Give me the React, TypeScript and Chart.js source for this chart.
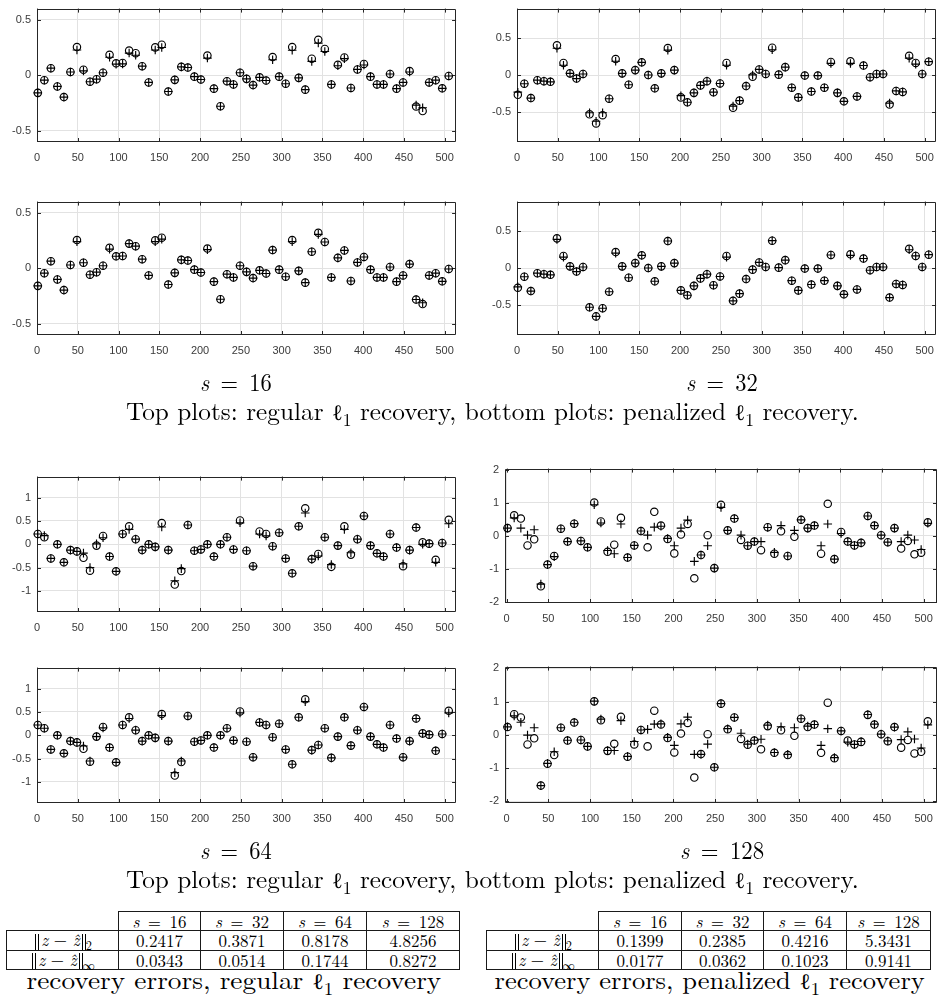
import React, { useEffect, useLayoutEffect, useRef, useState } from "react";
import { Chart, registerables } from "chart.js";

Chart.register(...registerables);

// ---------- data ----------
const X_POS = [1, 9, 17, 25, 33, 41, 49, 57, 65, 73, 81, 89, 97, 105, 113, 121, 129, 137, 145, 153, 161, 169, 177, 185, 193, 201, 209, 217, 225, 233, 241, 249, 257, 265, 273, 281, 289, 297, 305, 313, 321, 329, 337, 345, 353, 361, 369, 377, 385, 393, 401, 409, 417, 425, 433, 441, 449, 457, 465, 473, 481, 489, 497, 505];

const X_TICKS = [0, 50, 100, 150, 200, 250, 300, 350, 400, 450, 500];
const Y_TICKS_SMALL = [-0.5, 0, 0.5];
const Y_TICKS_MID = [-1, -0.5, 0, 0.5, 1];
const Y_TICKS_BIG = [-2, -1, 0, 1, 2];

// s = 16
const S16_TRUE = [-0.158, -0.044, 0.064, -0.100, -0.196, 0.030, 0.254, 0.050, -0.058, -0.035, 0.023, 0.184, 0.108, 0.111, 0.222, 0.199, 0.082, -0.064, 0.251, 0.275, -0.146, -0.041, 0.076, 0.070, -0.012, -0.038, 0.178, -0.120, -0.278, -0.053, -0.082, 0.023, -0.032, -0.088, -0.018, -0.047, 0.164, -0.012, -0.076, 0.254, -0.023, -0.129, 0.149, 0.319, 0.237, -0.082, 0.094, 0.161, -0.114, 0.053, 0.102, -0.012, -0.082, -0.082, 0.012, -0.120, -0.064, 0.038, -0.281, -0.322, -0.064, -0.044, -0.117, -0.006];
const S16_REGULAR = [-0.158, -0.044, 0.064, -0.100, -0.196, 0.030, 0.228, 0.040, -0.058, -0.035, 0.023, 0.162, 0.100, 0.103, 0.200, 0.180, 0.082, -0.064, 0.228, 0.250, -0.146, -0.041, 0.076, 0.070, -0.012, -0.038, 0.155, -0.120, -0.278, -0.053, -0.082, 0.023, -0.032, -0.088, -0.018, -0.047, 0.140, -0.012, -0.076, 0.225, -0.023, -0.129, 0.125, 0.290, 0.214, -0.082, 0.086, 0.150, -0.114, 0.053, 0.093, -0.012, -0.082, -0.082, 0.012, -0.120, -0.064, 0.030, -0.268, -0.292, -0.064, -0.044, -0.117, -0.006];
const S16_PENALIZED = [-0.158, -0.044, 0.064, -0.100, -0.196, 0.030, 0.240, 0.050, -0.058, -0.035, 0.023, 0.172, 0.108, 0.111, 0.222, 0.199, 0.082, -0.064, 0.240, 0.262, -0.146, -0.041, 0.076, 0.070, -0.012, -0.038, 0.168, -0.120, -0.278, -0.053, -0.082, 0.023, -0.032, -0.088, -0.018, -0.047, 0.164, -0.012, -0.076, 0.240, -0.023, -0.129, 0.149, 0.305, 0.237, -0.082, 0.094, 0.161, -0.114, 0.053, 0.102, -0.012, -0.082, -0.082, 0.012, -0.120, -0.064, 0.038, -0.281, -0.310, -0.064, -0.044, -0.117, -0.006];

// s = 32
const S32_TRUE = [-0.263, -0.114, -0.307, -0.066, -0.079, -0.088, 0.404, 0.167, 0.026, -0.044, 0.018, -0.526, -0.649, -0.539, -0.316, 0.219, 0.026, -0.127, 0.070, 0.175, 0.004, -0.175, 0.026, 0.368, 0.070, -0.298, -0.364, -0.237, -0.136, -0.079, -0.228, -0.110, 0.167, -0.439, -0.342, -0.145, -0.018, 0.079, 0.018, 0.373, 0.009, 0.110, -0.167, -0.298, -0.004, -0.219, -0.004, -0.167, 0.180, -0.237, -0.351, 0.189, -0.285, 0.132, -0.026, 0.018, 0.018, -0.395, -0.211, -0.224, 0.263, 0.167, 0.018, 0.184];
const S32_REGULAR = [-0.228, -0.114, -0.307, -0.066, -0.079, -0.088, 0.365, 0.135, 0.026, -0.044, 0.018, -0.505, -0.620, -0.505, -0.316, 0.190, 0.026, -0.127, 0.070, 0.175, 0.004, -0.175, 0.026, 0.340, 0.070, -0.275, -0.364, -0.237, -0.136, -0.079, -0.228, -0.110, 0.135, -0.415, -0.342, -0.145, 0.005, 0.079, 0.018, 0.345, 0.009, 0.110, -0.167, -0.298, -0.004, -0.219, -0.004, -0.167, 0.160, -0.237, -0.351, 0.160, -0.285, 0.132, -0.026, 0.018, 0.018, -0.375, -0.211, -0.224, 0.232, 0.150, 0.018, 0.184];
const S32_PENALIZED = [-0.250, -0.114, -0.307, -0.066, -0.079, -0.088, 0.390, 0.150, 0.026, -0.044, 0.018, -0.526, -0.649, -0.539, -0.316, 0.205, 0.026, -0.127, 0.070, 0.175, 0.004, -0.175, 0.026, 0.368, 0.070, -0.298, -0.364, -0.237, -0.136, -0.079, -0.228, -0.110, 0.150, -0.439, -0.342, -0.145, -0.018, 0.079, 0.018, 0.373, 0.009, 0.110, -0.167, -0.298, -0.004, -0.219, -0.004, -0.167, 0.180, -0.237, -0.351, 0.175, -0.285, 0.132, -0.026, 0.018, 0.018, -0.395, -0.211, -0.224, 0.250, 0.167, 0.018, 0.184];

// s = 64
const S64_TRUE = [0.221, 0.152, -0.303, 0.000, -0.386, -0.124, -0.152, -0.290, -0.566, -0.028, 0.179, -0.262, -0.579, 0.221, 0.386, 0.110, -0.124, 0.000, -0.055, 0.455, -0.124, -0.862, -0.572, 0.414, -0.138, -0.110, 0.000, -0.262, 0.000, 0.152, -0.110, 0.510, -0.138, -0.469, 0.276, 0.221, -0.041, 0.248, -0.303, -0.621, 0.386, 0.772, -0.317, -0.207, 0.152, -0.483, -0.028, 0.386, -0.221, 0.110, 0.607, -0.028, -0.193, -0.262, 0.221, -0.069, -0.469, -0.124, 0.359, 0.041, 0.014, -0.331, 0.028, 0.524];
const S64_REGULAR = [0.221, 0.186, -0.303, 0.000, -0.386, -0.124, -0.152, -0.190, -0.500, 0.010, 0.140, -0.262, -0.579, 0.221, 0.320, 0.110, -0.124, 0.000, -0.055, 0.370, -0.124, -0.780, -0.520, 0.414, -0.138, -0.110, 0.000, -0.262, 0.000, 0.152, -0.110, 0.460, -0.138, -0.469, 0.220, 0.180, -0.041, 0.248, -0.303, -0.621, 0.386, 0.670, -0.317, -0.250, 0.152, -0.434, -0.028, 0.320, -0.180, 0.110, 0.607, -0.028, -0.193, -0.262, 0.221, -0.069, -0.420, -0.124, 0.359, 0.000, 0.014, -0.386, 0.028, 0.440];
const S64_PENALIZED = [0.221, 0.152, -0.303, 0.000, -0.386, -0.124, -0.152, -0.230, -0.550, -0.028, 0.160, -0.262, -0.579, 0.221, 0.360, 0.110, -0.124, 0.000, -0.055, 0.420, -0.124, -0.800, -0.550, 0.414, -0.138, -0.110, 0.000, -0.262, 0.000, 0.152, -0.110, 0.480, -0.138, -0.469, 0.276, 0.221, -0.041, 0.248, -0.303, -0.621, 0.386, 0.720, -0.317, -0.207, 0.152, -0.483, -0.028, 0.386, -0.221, 0.110, 0.607, -0.028, -0.193, -0.262, 0.221, -0.069, -0.469, -0.124, 0.359, 0.041, 0.014, -0.331, 0.028, 0.480];

// s = 128
const S128_TRUE = [0.232, 0.618, 0.522, -0.290, -0.106, -1.527, -0.870, -0.609, 0.213, -0.174, 0.367, -0.155, -0.348, 1.005, 0.435, -0.483, -0.270, 0.541, -0.657, -0.290, 0.145, -0.348, 0.725, 0.309, -0.097, -0.531, 0.039, 0.357, -1.285, -0.580, 0.019, -0.976, 0.937, 0.164, 0.522, -0.126, -0.300, -0.174, -0.435, 0.261, -0.541, 0.135, -0.609, -0.029, 0.483, 0.232, 0.309, -0.541, 0.966, -0.705, 0.116, -0.174, -0.290, -0.213, 0.599, 0.309, 0.019, -0.193, 0.232, -0.386, -0.155, -0.560, -0.512, 0.406];
const S128_REGULAR = [0.232, 0.541, 0.232, 0.019, 0.184, -1.459, -0.870, -0.630, 0.213, -0.174, 0.367, -0.155, -0.348, 0.937, 0.386, -0.444, -0.541, 0.357, -0.657, -0.290, 0.145, 0.019, 0.261, 0.290, -0.080, -0.300, 0.232, 0.473, -0.773, -0.580, -0.300, -0.976, 0.860, 0.164, 0.522, 0.019, -0.300, -0.174, -0.174, 0.250, -0.500, 0.309, -0.609, 0.164, 0.483, 0.232, 0.309, -0.300, 0.357, -0.705, 0.068, -0.174, -0.290, -0.213, 0.599, 0.309, 0.019, -0.193, 0.232, -0.174, 0.019, -0.126, -0.415, 0.377];
const S128_PENALIZED = [0.240, 0.570, 0.377, -0.010, 0.213, -1.527, -0.860, -0.510, 0.213, -0.164, 0.377, -0.155, -0.348, 1.010, 0.470, -0.473, -0.473, 0.425, -0.647, -0.200, 0.145, 0.164, 0.319, 0.329, -0.077, -0.319, 0.329, 0.530, -0.589, -0.589, -0.280, -0.976, 0.937, 0.184, 0.522, 0.048, -0.280, -0.164, -0.135, 0.290, -0.531, 0.242, -0.589, 0.213, 0.483, 0.261, 0.309, -0.319, 0.184, -0.686, 0.116, -0.222, -0.290, -0.200, 0.609, 0.319, 0.019, -0.184, 0.232, -0.145, 0.087, -0.126, -0.396, 0.300];

// tables
const TABLE_S = ["16", "32", "64", "128"];
const REG_L2 = ["0.2417", "0.3871", "0.8178", "4.8256"];
const REG_LINF = ["0.0343", "0.0514", "0.1744", "0.8272"];
const PEN_L2 = ["0.1399", "0.2385", "0.4216", "5.3431"];
const PEN_LINF = ["0.0177", "0.0362", "0.1023", "0.9141"];

// ---------- drawing ----------
const AX = "#262626";
const GRID = "#e2e2e2";
const TICKFONT = { family: "'Liberation Sans', Arial, sans-serif", size: 11 };
const SERIF = "'Latin Modern Roman','CMU Serif','Liberation Serif','DejaVu Serif',serif";

const boxPlugin = {
  id: "matlabBox",
  beforeDatasetsDraw(chart: any) {
    const { ctx, chartArea, scales } = chart;
    const { left, top, right, bottom } = chartArea;
    ctx.save();
    ctx.strokeStyle = AX;
    ctx.lineWidth = 1;
    ctx.beginPath();
    ctx.rect(Math.round(left) + 0.5, Math.round(top) + 0.5, Math.round(right - left) - 1, Math.round(bottom - top) - 1);
    ctx.stroke();
    const tl = 4;
    ctx.beginPath();
    scales.x.ticks.forEach((t: any) => {
      const px = Math.round(scales.x.getPixelForValue(t.value)) + 0.5;
      ctx.moveTo(px, bottom);
      ctx.lineTo(px, bottom - tl);
      ctx.moveTo(px, top);
      ctx.lineTo(px, top + tl);
    });
    scales.y.ticks.forEach((t: any) => {
      const py = Math.round(scales.y.getPixelForValue(t.value)) + 0.5;
      ctx.moveTo(left, py);
      ctx.lineTo(left + tl, py);
      ctx.moveTo(right, py);
      ctx.lineTo(right - tl, py);
    });
    ctx.stroke();
    ctx.restore();
  },
};

type Spec = {
  box: [number, number, number, number];
  xmin: number;
  xmax: number;
  ymin: number;
  ymax: number;
  yticks: number[];
  truth: number[];
  rec: number[];
};

const PAD_L = 44;
const PAD_T = 8;
const PAD_R = 6;
const PAD_B = 26;

function Plot({ spec }: { spec: Spec }) {
  const ref = useRef<HTMLCanvasElement>(null);
  const [x0, y0, x1, y1] = spec.box;
  const w = x1 - x0 + PAD_L + PAD_R;
  const h = y1 - y0 + PAD_T + PAD_B;
  useEffect(() => {
    if (!ref.current) return;
    const chart = new Chart(ref.current, {
      type: "scatter",
      data: {
        datasets: [
          {
            data: X_POS.map((x, i) => ({ x, y: spec.truth[i] })),
            pointStyle: "circle",
            pointRadius: 3.7,
            pointBorderWidth: 1.15,
            pointBorderColor: "#000",
            pointBackgroundColor: "rgba(0,0,0,0)",
            clip: false,
          } as any,
          {
            data: X_POS.map((x, i) => ({ x, y: spec.rec[i] })),
            pointStyle: "cross",
            pointRadius: 4.3,
            pointBorderWidth: 1.15,
            pointBorderColor: "#000",
            pointBackgroundColor: "#000",
            clip: false,
          } as any,
        ],
      },
      options: {
        animation: false,
        responsive: false,
        devicePixelRatio: 1,
        events: [],
        layout: { padding: { left: 0, top: PAD_T, right: PAD_R, bottom: 0 } },
        plugins: { legend: { display: false }, tooltip: { enabled: false } },
        scales: {
          x: {
            type: "linear",
            min: spec.xmin,
            max: spec.xmax,
            afterBuildTicks: (s: any) => {
              s.ticks = X_TICKS.map((v) => ({ value: v }));
            },
            afterFit: (s: any) => {
              s.height = PAD_B;
            },
            grid: { color: GRID, drawTicks: false, lineWidth: 1 },
            border: { display: false },
            ticks: {
              padding: 9,
              color: "#3a3a3a",
              font: TICKFONT,
              maxRotation: 0,
              autoSkip: false,
              callback: (v: any) => String(v),
            },
          },
          y: {
            type: "linear",
            min: spec.ymin,
            max: spec.ymax,
            afterBuildTicks: (s: any) => {
              s.ticks = spec.yticks.map((v) => ({ value: v }));
            },
            afterFit: (s: any) => {
              s.width = PAD_L;
            },
            grid: { color: GRID, drawTicks: false, lineWidth: 1 },
            border: { display: false },
            ticks: {
              padding: 6,
              color: "#3a3a3a",
              font: TICKFONT,
              autoSkip: false,
              callback: (v: any) => String(v),
            },
          },
        },
      } as any,
      plugins: [boxPlugin],
    });
    return () => chart.destroy();
  }, []);
  return (
    <canvas
      ref={ref}
      width={w}
      height={h}
      style={{ position: "absolute", left: x0 - PAD_L, top: y0 - PAD_T, width: w, height: h }}
    />
  );
}

const PLOTS: Spec[] = [
  { box: [37, 4, 457, 142], xmin: 0, xmax: 514, ymin: -0.6, ymax: 0.6, yticks: Y_TICKS_SMALL, truth: S16_TRUE, rec: S16_REGULAR },
  { box: [517, 4, 937, 142], xmin: 0, xmax: 514, ymin: -0.9, ymax: 0.9, yticks: Y_TICKS_SMALL, truth: S32_TRUE, rec: S32_REGULAR },
  { box: [37, 197, 457, 335], xmin: 0, xmax: 514, ymin: -0.6, ymax: 0.6, yticks: Y_TICKS_SMALL, truth: S16_TRUE, rec: S16_PENALIZED },
  { box: [517, 197, 937, 335], xmin: 0, xmax: 514, ymin: -0.9, ymax: 0.9, yticks: Y_TICKS_SMALL, truth: S32_TRUE, rec: S32_PENALIZED },
  { box: [37, 472, 457, 612], xmin: 0, xmax: 514, ymin: -1.45, ymax: 1.45, yticks: Y_TICKS_MID, truth: S64_TRUE, rec: S64_REGULAR },
  { box: [505, 464, 937, 603], xmin: -2, xmax: 516, ymin: -2.03, ymax: 2.03, yticks: Y_TICKS_BIG, truth: S128_TRUE, rec: S128_REGULAR },
  { box: [37, 663, 457, 803], xmin: 0, xmax: 514, ymin: -1.45, ymax: 1.45, yticks: Y_TICKS_MID, truth: S64_TRUE, rec: S64_PENALIZED },
  { box: [505, 662, 937, 803], xmin: -2, xmax: 516, ymin: -2.05, ymax: 2.05, yticks: Y_TICKS_BIG, truth: S128_TRUE, rec: S128_PENALIZED },
];

// text block centred at (cx, cy), stretched horizontally to a target width
function FitText({ cx, cy, size, target, children }: { cx: number; cy: number; size: number; target: number; children: React.ReactNode }) {
  const ref = useRef<HTMLSpanElement>(null);
  const [sx, setSx] = useState(1);
  useLayoutEffect(() => {
    if (ref.current) {
      const wNat = ref.current.offsetWidth;
      if (wNat > 0) setSx(target / wNat);
    }
  }, []);
  return (
    <div
      style={{
        position: "absolute",
        left: cx - 500,
        width: 1000,
        top: cy - size,
        height: size * 2,
        lineHeight: `${size * 2}px`,
        textAlign: "center",
        whiteSpace: "nowrap",
      }}
    >
      <span
        ref={ref}
        style={{
          display: "inline-block",
          transform: `scaleX(${sx})`,
          transformOrigin: "50% 50%",
          fontFamily: SERIF,
          fontSize: size,
          color: "#000",
        }}
      >
        {children}
      </span>
    </div>
  );
}

const S = ({ v }: { v: string }) => (
  <span>
    <i>s</i>&nbsp;=&nbsp;{v}
  </span>
);

const Ell = () => (
  <span>
    <span style={{ fontFamily: "'DejaVu Serif', serif", fontStyle: "normal", fontWeight: 400, fontSize: "0.88em" }}>ℓ</span>
    <sub style={{ fontSize: "0.7em", lineHeight: 0 }}>1</sub>
  </span>
);

const Bar2 = () => (
  <span
    style={{
      display: "inline-block",
      width: 2,
      height: "0.95em",
      borderLeft: "1px solid #000",
      borderRight: "1px solid #000",
      verticalAlign: "-0.22em",
      margin: "0 2px",
    }}
  />
);

const NormLabel = ({ sub }: { sub: string }) => (
  <span>
    <Bar2 />
    <i>z</i> − <i>ẑ</i>
    <Bar2 />
    <sub style={{ fontSize: "0.72em", lineHeight: 0, marginLeft: -2 }}>{sub}</sub>
  </span>
);

function ErrTable({ left, top, colW, l2, linf }: { left: number; top: number; colW: number[]; l2: string[]; linf: string[] }) {
  const cell: React.CSSProperties = { border: "1px solid #1a1a1a", padding: 0, textAlign: "center", height: 18 };
  return (
    <table
      style={{
        position: "absolute",
        left,
        top,
        borderCollapse: "collapse",
        fontFamily: SERIF,
        fontSize: 17,
        lineHeight: "17px",
        tableLayout: "fixed",
        color: "#000",
      }}
    >
      <colgroup>
        {colW.map((cw, i) => (
          <col key={i} style={{ width: cw }} />
        ))}
      </colgroup>
      <tbody>
        <tr>
          <td style={{ ...cell, border: "none", borderBottom: "1px solid #1a1a1a", borderRight: "1px solid #1a1a1a" }}></td>
          {TABLE_S.map((s) => (
            <td key={s} style={cell}>
              <S v={s} />
            </td>
          ))}
        </tr>
        <tr>
          <td style={cell}>
            <NormLabel sub="2" />
          </td>
          {l2.map((v, i) => (
            <td key={i} style={cell}>
              {v}
            </td>
          ))}
        </tr>
        <tr>
          <td style={cell}>
            <NormLabel sub="∞" />
          </td>
          {linf.map((v, i) => (
            <td key={i} style={cell}>
              {v}
            </td>
          ))}
        </tr>
      </tbody>
    </table>
  );
}

export default function App() {
  return (
    <div style={{ position: "absolute", left: 0, top: 0, width: 938, height: 998, overflow: "hidden", background: "#fff" }}>
      {PLOTS.map((p, i) => (
        <Plot key={i} spec={p} />
      ))}
      <FitText cx={236} cy={381} size={25} target={72}>
        <S v="16" />
      </FitText>
      <FitText cx={722} cy={381} size={25} target={72}>
        <S v="32" />
      </FitText>
      <FitText cx={492} cy={410} size={25} target={733}>
        Top plots: regular <Ell /> recovery, bottom plots: penalized <Ell /> recovery.
      </FitText>
      <FitText cx={236} cy={849} size={25} target={72}>
        <S v="64" />
      </FitText>
      <FitText cx={722} cy={849} size={25} target={84}>
        <S v="128" />
      </FitText>
      <FitText cx={492} cy={878} size={25} target={733}>
        Top plots: regular <Ell /> recovery, bottom plots: penalized <Ell /> recovery.
      </FitText>
      <ErrTable left={6} top={911} colW={[112, 82, 83, 83, 93]} l2={REG_L2} linf={REG_LINF} />
      <ErrTable left={486} top={911} colW={[112, 83, 82, 83, 84]} l2={PEN_L2} linf={PEN_LINF} />
      <FitText cx={234} cy={979} size={25} target={415}>
        recovery errors, regular <Ell /> recovery
      </FitText>
      <FitText cx={710} cy={979} size={25} target={430}>
        recovery errors, penalized <Ell /> recovery
      </FitText>
    </div>
  );
}
